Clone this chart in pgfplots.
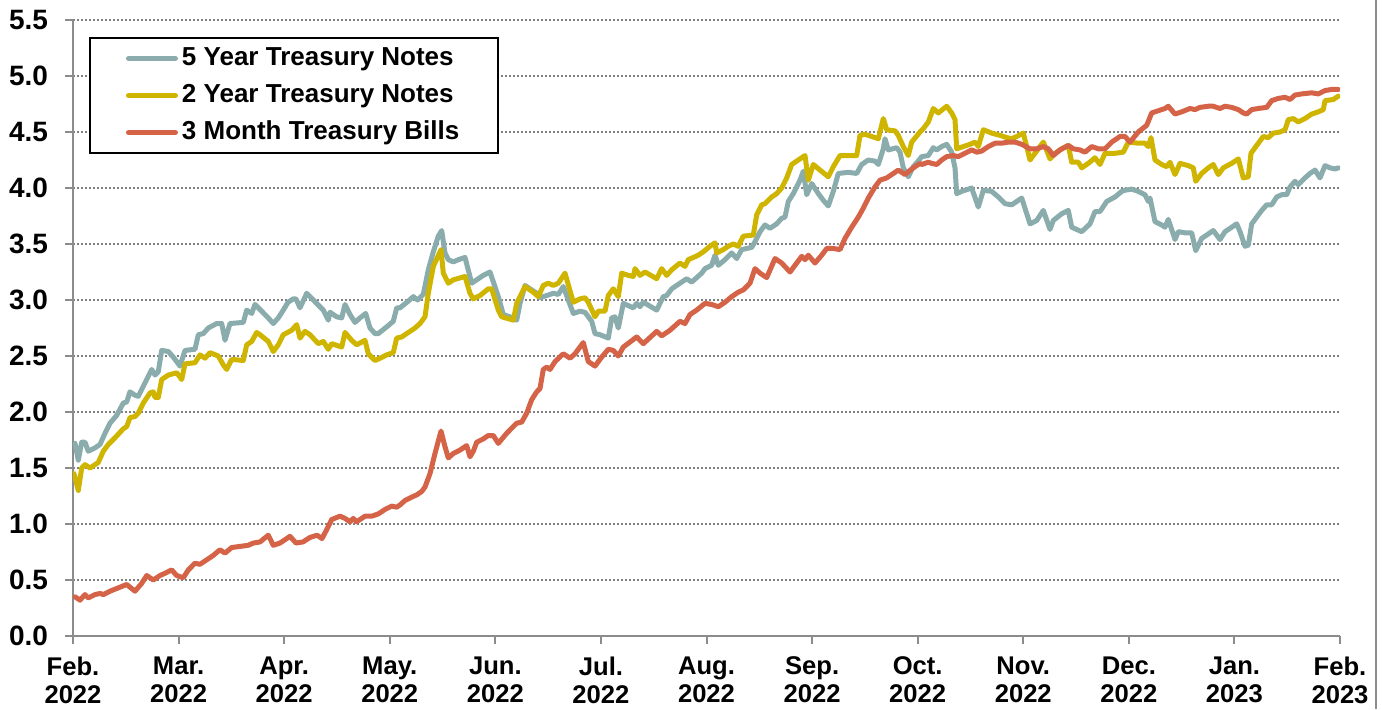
\documentclass[border=0pt]{standalone}
\usepackage{pgfplots}
\usepackage{pgfplotstable}
\pgfplotsset{compat=1.18}
\usepackage{fontspec}
\setmainfont{Liberation Sans}
\definecolor{cfive}{RGB}{138,172,172}
\definecolor{ctwo}{RGB}{207,181,0}
\definecolor{cthree}{RGB}{213,99,72}
\definecolor{axgray}{RGB}{140,140,140}
\newcommand{\xlblfont}{\fontsize{12.8}{14}\selectfont\bfseries}
\newcommand{\ylblfont}{\fontsize{14}{16}\selectfont\bfseries}

% x = horizontal position (Feb 2022 = 73, Feb 2023 = 1340), y = yield in %
\pgfplotstableread{
x y
75 1.72
78.3 1.57
81.7 1.73
85 1.73
88.3 1.65
95 1.68
100 1.71
105 1.81
110 1.90
116.7 1.97
123.3 2.08
126.7 2.09
130 2.18
135 2.15
138.3 2.14
143.3 2.23
151.7 2.38
155 2.33
158.3 2.36
161.7 2.55
168.3 2.54
173.3 2.49
180 2.41
185 2.55
195 2.56
198.3 2.69
203.3 2.70
208.3 2.75
216.7 2.79
221.7 2.79
225 2.64
230 2.79
243.3 2.80
246.7 2.91
251.7 2.88
255 2.96
261.7 2.90
268.3 2.84
273.3 2.79
278.3 2.84
283.3 2.91
288 2.98
293.3 3.01
296 3.01
300 2.93
306.7 3.06
313.3 3.00
323.3 2.91
328.3 2.82
330 2.89
336.7 2.85
341.7 2.84
345 2.96
350 2.87
355 2.80
360 2.84
365.7 2.88
370 2.75
375 2.70
378.3 2.70
386.7 2.76
393.3 2.81
396.7 2.93
400 2.93
408.3 2.99
413.3 3.03
417.7 3.00
423.3 3.05
428.3 3.27
433.3 3.43
438.3 3.57
441.7 3.62
445 3.42
448.3 3.36
453.3 3.34
458.3 3.36
465 3.38
471.7 3.15
478.3 3.19
483.3 3.22
490 3.25
498.3 3.03
503.3 2.87
513.3 2.84
516.7 2.82
520 2.97
525 3.13
530 3.10
536.7 3.06
540 3.02
546.7 3.04
553.3 3.06
558.3 3.05
563.3 3.12
573.3 2.88
580 2.90
585 2.89
591.7 2.81
595 2.70
600 2.69
608.3 2.66
611.7 2.84
615 2.85
618.3 2.75
623.3 2.97
628.3 2.95
633.3 2.93
636.7 2.97
640 2.94
643.3 2.98
656.7 2.91
663.3 3.03
666.7 3.04
671.7 3.10
680 3.15
686.7 3.19
691.7 3.16
701.7 3.24
705 3.28
711.7 3.31
715 3.40
718.3 3.31
725 3.36
731.7 3.42
736.7 3.37
741.7 3.45
751.7 3.47
755 3.52
760 3.61
765 3.67
770 3.64
776.7 3.68
781.7 3.73
785 3.74
788.3 3.88
793.3 3.95
800 4.07
803.3 4.15
806.7 3.94
811.7 4.04
818.3 3.95
823.3 3.89
828.3 3.84
833.3 3.97
838.3 4.13
848.3 4.14
856.7 4.13
861.7 4.21
868.3 4.25
875 4.24
878.3 4.21
883.3 4.35
885 4.44
888.3 4.34
896.7 4.36
900 4.32
903.3 4.18
908.3 4.10
913.3 4.19
920 4.26
921.7 4.28
928.3 4.29
933.3 4.36
936.7 4.34
941.7 4.37
946.7 4.39
951.7 4.32
955 4.18
956.7 3.95
961.7 3.97
971.7 4.00
978.3 3.83
983.3 3.98
991.7 3.97
998.3 3.92
1005 3.86
1011.7 3.85
1021.7 3.91
1030 3.68
1036.7 3.71
1043.3 3.80
1050 3.63
1053.3 3.71
1061.7 3.77
1068.3 3.80
1071.7 3.65
1081.7 3.61
1090 3.68
1095 3.79
1100 3.79
1106.7 3.88
1115 3.92
1121.7 3.97
1125 3.98
1131.7 3.99
1138.3 3.97
1145 3.94
1148.3 3.88
1150 3.91
1155 3.70
1161.7 3.67
1165 3.65
1168.3 3.72
1175 3.54
1178.3 3.61
1185 3.60
1191.7 3.60
1195.7 3.44
1201.7 3.55
1206.7 3.58
1213.3 3.62
1220 3.54
1225 3.61
1231.7 3.65
1236.7 3.68
1240 3.61
1245 3.48
1248.3 3.49
1251.7 3.68
1256.7 3.74
1261.7 3.80
1266.7 3.85
1271.7 3.85
1276.7 3.92
1281.7 3.94
1286.7 3.94
1290 4.01
1295 4.06
1298.3 4.03
1305 4.09
1310 4.13
1315 4.16
1320 4.09
1325 4.20
1330 4.18
1335 4.17
1338.3 4.18
}\fiveyr

\pgfplotstableread{
x y
74 1.45
78.3 1.30
81.7 1.50
85 1.53
90 1.50
98.3 1.55
103.3 1.65
108.3 1.71
115 1.77
123.3 1.85
126.7 1.87
130 1.95
135 1.96
138.3 1.99
143.3 2.08
150 2.17
153.3 2.18
155 2.13
158.3 2.13
161.7 2.29
168.3 2.33
176.7 2.35
181.7 2.29
185 2.43
195 2.44
200 2.51
205 2.48
210 2.53
218.3 2.50
223.3 2.42
226.7 2.38
231.7 2.47
243.3 2.46
246.7 2.60
251.7 2.63
256.7 2.71
260 2.69
268.3 2.63
273.3 2.54
278.3 2.60
283.3 2.69
291.7 2.73
296.7 2.78
300 2.66
305 2.72
310 2.69
318.3 2.61
323.3 2.63
328.3 2.56
331.7 2.61
341.7 2.58
345 2.71
351.7 2.64
356.7 2.60
365 2.64
368.3 2.52
375 2.46
380 2.48
386.7 2.51
393.3 2.53
396.7 2.66
401.7 2.67
408.3 2.71
415 2.75
420 2.79
425 2.85
428.3 3.06
433.3 3.30
441 3.45
443.3 3.24
448.3 3.15
453.3 3.18
465 3.21
470 3.06
473.3 3.01
480 3.04
488.3 3.10
491.7 3.10
498.3 2.91
501.7 2.85
513.3 2.82
516.7 2.97
525 3.12
533.3 3.07
538.3 3.03
543.3 3.13
548.3 3.15
553.3 3.13
558.3 3.15
565 3.24
573.3 2.98
580 3.01
585 3.02
588.3 2.98
595 2.85
598.3 2.90
605 2.90
608.3 3.04
613.3 3.10
618.3 3.03
621.7 3.24
628.3 3.22
633.3 3.21
635 3.28
640 3.22
645 3.25
656.7 3.19
661.7 3.28
666.7 3.22
671.7 3.27
680 3.33
685 3.30
688.3 3.36
698.3 3.40
703.3 3.43
710 3.48
715 3.51
716.7 3.42
723.3 3.45
728.3 3.48
733.3 3.50
738.3 3.48
743.3 3.57
753.3 3.58
756.7 3.76
761.7 3.85
765 3.86
771.7 3.92
776.7 3.95
781.7 4.00
786.7 4.09
791.7 4.21
798.3 4.25
805 4.29
808.3 4.07
813.3 4.21
820 4.16
828.3 4.10
833.3 4.19
840 4.29
848.3 4.29
856.7 4.29
860 4.47
865 4.48
871.7 4.46
878.3 4.44
883.3 4.62
886.7 4.52
895 4.51
898.3 4.47
903.3 4.37
908.3 4.29
911.7 4.41
920 4.50
923.3 4.53
928.3 4.59
933.3 4.71
938.3 4.67
946.7 4.73
951.7 4.67
955 4.61
956.7 4.35
963.3 4.37
970 4.39
975 4.41
978.3 4.37
983.3 4.52
991.7 4.49
1000 4.47
1006.7 4.45
1011.7 4.44
1016.7 4.46
1023.3 4.49
1030 4.25
1035 4.31
1043.3 4.41
1050 4.26
1055 4.31
1061.7 4.35
1068.3 4.38
1071.7 4.23
1078.3 4.23
1081.7 4.18
1088.3 4.22
1095 4.27
1100 4.21
1105 4.31
1115 4.31
1123.3 4.32
1128.3 4.41
1138.3 4.40
1145 4.40
1148.3 4.37
1151 4.45
1155 4.25
1161.7 4.21
1166.7 4.19
1170 4.23
1175 4.12
1180 4.22
1188.3 4.20
1193.3 4.18
1195.7 4.06
1201.7 4.13
1208.3 4.18
1213.3 4.21
1218.3 4.12
1223.3 4.18
1231.7 4.22
1238.3 4.26
1243.3 4.09
1248.3 4.10
1251 4.31
1256.7 4.38
1263.3 4.46
1268.3 4.45
1273.3 4.49
1280 4.50
1285 4.52
1288.3 4.61
1293.3 4.62
1298.3 4.59
1305 4.62
1311.7 4.66
1318.3 4.68
1323.3 4.70
1325 4.78
1333.3 4.79
1338.3 4.82
}\twoyr

\pgfplotstableread{
x y
75 0.35
80 0.32
85 0.37
88.3 0.34
95 0.37
100 0.38
103.3 0.37
110 0.40
118.3 0.43
126.7 0.46
135 0.40
141.7 0.47
146.7 0.54
153.3 0.50
160 0.54
165 0.56
171.7 0.59
176.7 0.54
183.3 0.52
188.3 0.59
195 0.65
200 0.64
206.7 0.68
213.3 0.72
220 0.77
225 0.74
231.7 0.79
240 0.80
248.3 0.81
253.3 0.83
260 0.84
268.3 0.90
273.3 0.81
280 0.83
285 0.86
290 0.89
296 0.83
303 0.84
310 0.88
317 0.90
322 0.87
326.7 0.95
331.7 1.04
340 1.07
345 1.05
350 1.02
353.3 1.05
356.7 1.02
365 1.07
371.7 1.07
378.3 1.09
385 1.13
391.7 1.16
396.7 1.15
400 1.17
405 1.21
411.7 1.24
416.7 1.26
421.7 1.29
425 1.33
430 1.45
435 1.63
441 1.83
445 1.69
448.3 1.59
453.3 1.63
460 1.66
466.7 1.70
470 1.60
473.3 1.65
476.7 1.73
483.3 1.76
488.3 1.79
493.3 1.79
498.3 1.72
506.7 1.81
516.7 1.90
521.7 1.91
526.7 1.99
531.7 2.11
536.7 2.18
540 2.21
543.3 2.38
546.7 2.40
550 2.38
555 2.45
563.3 2.52
570 2.48
575 2.52
583.3 2.62
588.3 2.45
595 2.41
601.7 2.49
608.3 2.56
613.3 2.55
618.3 2.50
623.3 2.58
636.7 2.67
643.3 2.61
656.7 2.72
661.7 2.68
670 2.73
680 2.81
685 2.79
690 2.87
696.7 2.91
705 2.97
711.7 2.96
718.3 2.94
725 2.98
731.7 3.03
738.3 3.07
743.3 3.09
750 3.15
755 3.28
760 3.24
766.7 3.20
775 3.37
781.7 3.33
790 3.25
796.7 3.33
801.7 3.39
805 3.36
808.3 3.40
815 3.33
821.7 3.40
826.7 3.46
833.3 3.46
840 3.45
845 3.55
851.7 3.65
858.3 3.74
863.3 3.82
868.3 3.91
875 4.01
880 4.07
886.7 4.09
891.7 4.12
898.3 4.16
905 4.12
911.7 4.17
920 4.22
921.7 4.21
928.3 4.23
931.7 4.22
936.7 4.21
941.7 4.25
946.7 4.28
953.3 4.29
958.3 4.28
965 4.31
971.7 4.34
976.7 4.32
981.7 4.33
988.3 4.37
995 4.40
1001.7 4.40
1008.3 4.41
1015 4.41
1021.7 4.39
1030 4.35
1036.7 4.35
1043.3 4.37
1048.3 4.35
1053.3 4.29
1060 4.34
1068.3 4.38
1073.3 4.35
1080 4.34
1085 4.32
1091.7 4.37
1098.3 4.35
1105 4.35
1111.7 4.41
1120 4.46
1125 4.46
1130 4.41
1138.3 4.50
1146.7 4.56
1151.7 4.67
1158.3 4.69
1165 4.71
1168.3 4.73
1175 4.66
1181.7 4.68
1190 4.71
1195 4.70
1200 4.72
1208.3 4.73
1213.3 4.73
1220 4.71
1225 4.73
1231.7 4.72
1238.3 4.70
1243.3 4.67
1246.7 4.66
1251.7 4.70
1258.3 4.71
1266.7 4.72
1271.7 4.78
1278.3 4.80
1285 4.81
1290 4.79
1295 4.83
1301.7 4.84
1311.7 4.85
1318.3 4.84
1325 4.87
1331.7 4.88
1338.3 4.88
}\threemo

\begin{document}
\begin{tikzpicture}
\begin{axis}[
  at={(0,0)}, anchor=south west,
  scale only axis, width=633.5pt, height=308pt,
  xmin=73, xmax=1340, ymin=0, ymax=5.5,
  axis lines*=left,
  axis line style={axgray, line width=1pt},
  tick style={axgray, line width=1pt},
  tick align=outside,
  major tick length=4pt,
  xtick={73,178.58,284.17,389.75,495.33,600.92,706.5,812.08,917.67,1023.25,1128.83,1234.42,1340},
  xticklabels={{Feb.\\2022},{Mar.\\2022},{Apr.\\2022},{May.\\2022},{Jun.\\2022},{Jul.\\2022},{Aug.\\2022},{Sep.\\2022},{Oct.\\2022},{Nov.\\2022},{Dec.\\2022},{Jan.\\2023},{Feb.\\2023}},
  xticklabel style={align=center, font=\xlblfont, yshift=-3pt},
  ytick={0,0.5,1,1.5,2,2.5,3,3.5,4,4.5,5,5.5},
  yticklabel style={font=\ylblfont, xshift=-5pt, /pgf/number format/fixed, /pgf/number format/fixed zerofill, /pgf/number format/precision=1},
  /pgf/number format/assume math mode=true,
  ymajorgrids,
  major grid style={gray, line width=0.8pt, dash pattern=on 0.8pt off 1.2pt},
  legend style={
    at={(0.0126,0.9724)}, anchor=north west,
    draw=black, line width=1pt,
    font=\fontsize{13}{15}\selectfont\bfseries,
    inner xsep=18pt, inner ysep=1pt,
    row sep=0pt,
    nodes={text height=9.5pt, text depth=3pt, inner ysep=3pt},
  },
  legend cell align=left,
  legend image code/.code={\draw[#1] (0pt,0pt) -- (23.5pt,0pt);},
  every axis plot/.append style={line width=2.5pt, line join=round, line cap=round},
]
\addplot[cfive] table[x=x, y=y] {\fiveyr};
\addlegendentry{\makebox[138pt][l]{5 Year Treasury Notes}}
\addplot[ctwo] table[x=x, y=y] {\twoyr};
\addlegendentry{\makebox[138pt][l]{2 Year Treasury Notes}}
\addplot[cthree] table[x=x, y=y] {\threemo};
\addlegendentry{\makebox[138pt][l]{3 Month Treasury Bills}}
\end{axis}
\draw[axgray, line width=1pt] (651.5pt,-36.5pt) -- (651.5pt,318pt);
\pgfresetboundingbox
\path (-36.5pt,-36.5pt) rectangle (654.5pt,318pt);
\end{tikzpicture}
\end{document}
